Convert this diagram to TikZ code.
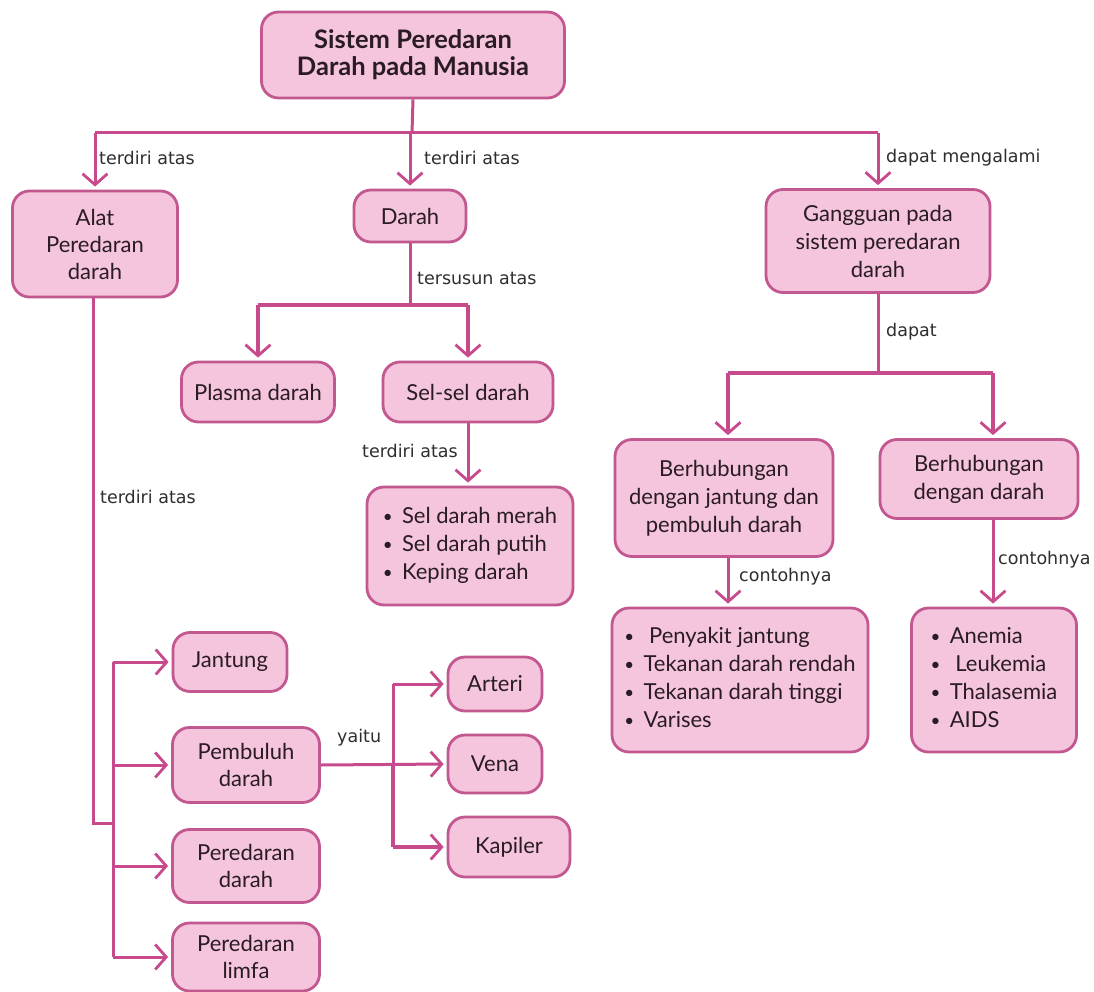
\documentclass[tikz,border=0pt]{standalone}
\usepackage{fontspec}
\setmainfont{Lato}
\newfontfamily\labelfont{DejaVu Sans}
\usetikzlibrary{arrows.meta}
\definecolor{linepink}{HTML}{C64A8C}
\definecolor{boxline}{HTML}{C2588F}
\definecolor{boxfill}{HTML}{F4C5DD}
\definecolor{inkdark}{HTML}{2A1B24}
\newcommand{\bul}{\raisebox{0.1ex}{\fontsize{17}{17}\selectfont•}\ \,}
\begin{document}
\begin{tikzpicture}[x=1pt,y=-1pt,
  box/.style={draw=boxline, fill=boxfill, line width=2.8pt, rounded corners=17pt,
    align=center, text=inkdark, inner sep=0pt,
    font=\fontsize{22}{28}\selectfont},
  sz/.style 2 args={minimum width=#1pt, minimum height=#2pt},
  conn/.style={draw=linepink, line width=3pt},
  arr/.style={conn, -{Straight Barb[length=11pt,width=25pt,line width=2.8pt]}, shorten >=3pt},
  heavy/.style={line width=4.2pt},
  lbl/.style={font=\labelfont\fontsize{17.5}{19}\selectfont, text=black!82, inner sep=0pt, anchor=west}]

\fill[white] (0,0) rectangle (1094,992);
\useasboundingbox (0,0) rectangle (1094,992);

% boxes
\node[box, sz={303}{86}, font=\bfseries\fontsize{25.5}{27}\selectfont] (title) at (413,55) {Sistem Peredaran\\Darah pada Manusia};
\node[box, sz={165}{106}, font=\fontsize{22}{27}\selectfont] (alat) at (95,244) {Alat\\Peredaran\\darah};
\node[box, sz={112}{52}] (darah) at (410,216) {Darah};
\node[box, sz={224}{103}] (gangguan) at (878,241) {Gangguan pada\\sistem peredaran\\darah};
\node[box, sz={153}{60}] (plasma) at (258,392) {Plasma darah};
\node[box, sz={170}{60}] (selsel) at (468,392) {Sel-sel darah};
\node[box, sz={206}{118}] (sellist) at (470,546) {\begin{tabular}{@{}l@{}}\bul Sel darah merah\\\bul Sel darah putih\\\bul Keping darah\end{tabular}};
\node[box, sz={218}{117}] (hubjantung) at (724,498) {Berhubungan\\dengan jantung dan\\pembuluh darah};
\node[box, sz={198}{79}] (hubdarah) at (979,479) {Berhubungan\\dengan darah};
\node[box, sz={256}{144}] (penyakit1) at (740,680) {\begin{tabular}{@{}l@{}}\bul\ Penyakit jantung\\\bul Tekanan darah rendah\\\bul Tekanan darah tinggi\\\bul Varises\end{tabular}};
\node[box, sz={165}{144}] (penyakit2) at (994,680) {\begin{tabular}{@{}l@{}}\bul Anemia\\\bul\ Leukemia\\\bul Thalasemia\\\bul AIDS\end{tabular}};
\node[box, sz={114}{59}] (jantung) at (230,662) {Jantung};
\node[box, sz={147}{75}, font=\fontsize{22}{27}\selectfont] (pembuluh) at (246,765) {Pembuluh\\darah};
\node[box, sz={147}{73}, font=\fontsize{22}{27}\selectfont] (pdarah) at (246,866) {Peredaran\\darah};
\node[box, sz={147}{68}, font=\fontsize{22}{27}\selectfont] (plimfa) at (246,957) {Peredaran\\limfa};
\node[box, sz={94}{54}] (arteri) at (495,684) {Arteri};
\node[box, sz={94}{58}] (vena) at (495,764) {Vena};
\node[box, sz={122}{60}] (kapiler) at (509,847) {Kapiler};

% junction points
\coordinate (topbus) at (412,133);
\coordinate (darahbus) at (410,305);
\coordinate (gangbus) at (878,373);
\coordinate (alatbend) at (93,823);
\coordinate (alatbus) at (113,823);
\coordinate (yaitubus) at (393,765);

% top level
\draw[conn] (title.south) -- (topbus);
\draw[conn] (topbus -| alat.north) -- (topbus -| gangguan.north);
\draw[arr] (topbus -| alat.north) -- (alat.north);
\draw[arr] (topbus -| darah.north) -- (darah.north);
\draw[arr] (topbus -| gangguan.north) -- (gangguan.north);
\node[lbl] at (99,158) {terdiri atas};
\node[lbl] at (424,158) {terdiri atas};
\node[lbl] at (886,158) {dapat mengalami};

% darah branch
\draw[conn] (darah.south) -- (darahbus);
\draw[conn, heavy] (darahbus -| plasma.north) -- (darahbus -| selsel.north);
\draw[arr, heavy] (darahbus -| plasma.north) -- (plasma.north);
\draw[arr, heavy] (darahbus -| selsel.north) -- (selsel.north);
\node[lbl] at (417,278) {tersusun atas};
\draw[arr] (selsel.south) -- (selsel.south |- sellist.north);
\node[lbl] at (362,451) {terdiri atas};

% gangguan branch
\draw[conn] (gangguan.south) -- (gangbus);
\coordinate (leftdrop) at (728,373);
\coordinate (rightdrop) at (993,373);
\draw[conn, heavy] (leftdrop) -- (rightdrop);
\draw[arr, heavy] (leftdrop) -- (leftdrop |- hubjantung.north);
\draw[arr, heavy] (rightdrop) -- (rightdrop |- hubdarah.north);
\node[lbl] at (886,332) {dapat};
\draw[arr] (leftdrop |- hubjantung.south) -- (leftdrop |- penyakit1.north);
\node[lbl] at (739,577) {contohnya};
\draw[arr] (rightdrop |- hubdarah.south) -- (rightdrop |- penyakit2.north);
\node[lbl] at (998,560) {contohnya};

% alat branch
\draw[conn] (alat.south -| alatbend) -- (alatbend) -- (alatbus);
\node[lbl] at (100,497) {terdiri atas};
\draw[conn] (alatbus |- jantung.west) -- (alatbus |- plimfa.west);
\draw[arr] (alatbus |- jantung.west) -- (jantung.west);
\draw[arr] (alatbus |- pembuluh.west) -- (pembuluh.west);
\draw[arr] (alatbus |- pdarah.west) -- (pdarah.west);
\draw[arr] (alatbus |- plimfa.west) -- (plimfa.west);

% pembuluh darah branch
\draw[arr] (pembuluh.east) -- (vena.west);
\node[lbl] at (337,738) {yaitu};
\draw[conn] (yaitubus |- arteri.west) -- (yaitubus);
\draw[conn, heavy] (yaitubus) -- (yaitubus |- kapiler.west);
\draw[arr] (yaitubus |- arteri.west) -- (arteri.west);
\draw[arr, heavy] (yaitubus |- kapiler.west) -- (kapiler.west);
\end{tikzpicture}
\end{document}
